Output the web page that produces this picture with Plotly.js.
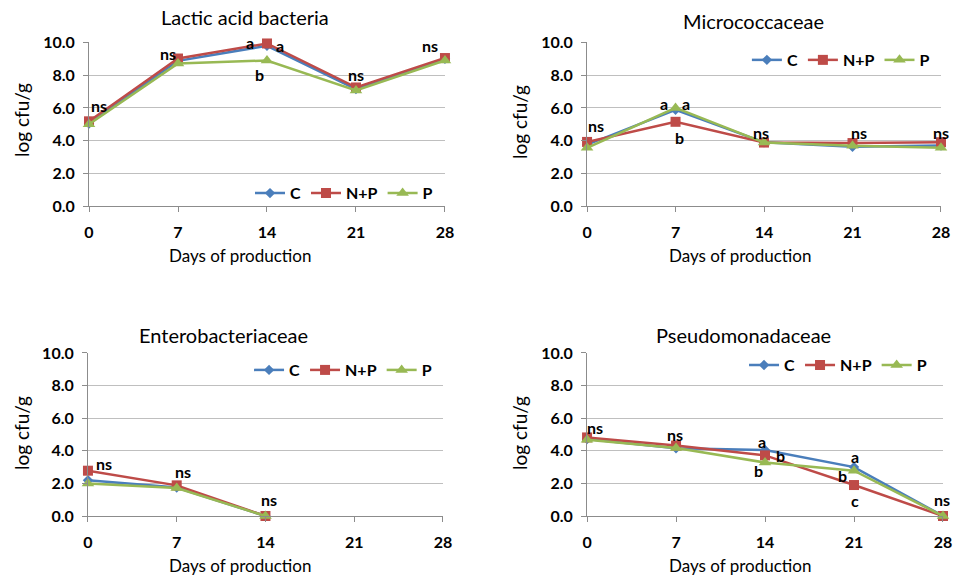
<!DOCTYPE html>
<html>
<head>
<meta charset="utf-8">
<script src="https://cdn.plot.ly/plotly-3.0.1.min.js"></script>
<style>html,body{margin:0;padding:0;background:#fff;}#chart{width:953px;height:575px;}</style>
</head>
<body>
<div id="chart"></div>
<script>
// ---- Data ----
const days = [0, 7, 14, 21, 28];
const tickLabels = ["0", "7", "14", "21", "28"];
const seriesNames = ["C", "N+P", "P"];
const panelTitles = ["Lactic acid bacteria", "Micrococcaceae", "Enterobacteriaceae", "Pseudomonadaceae"];
const xTitle = "Days of production";
const yTitle = "log cfu/g";

// Lactic acid bacteria
const lab_C   = [5.05, 8.88, 9.80, 7.15, 9.00];
const lab_NP  = [5.18, 9.02, 9.94, 7.25, 9.05];
const lab_P   = [5.00, 8.72, 8.90, 7.07, 8.90];
// Micrococcaceae
const mic_C   = [3.75, 5.88, 3.90, 3.62, 3.70];
const mic_NP  = [3.92, 5.15, 3.88, 3.85, 3.90];
const mic_P   = [3.56, 6.00, 3.88, 3.68, 3.56];
// Enterobacteriaceae
const ent_C   = [2.20, 1.75, 0.00];
const ent_NP  = [2.78, 1.88, 0.00];
const ent_P   = [2.00, 1.72, 0.00];
// Pseudomonadaceae
const pse_C   = [4.72, 4.15, 4.05, 3.00, 0.00];
const pse_NP  = [4.82, 4.32, 3.72, 1.90, 0.00];
const pse_P   = [4.68, 4.17, 3.28, 2.78, 0.00];

// significance letters: [x, y, text] in data units
const lab_sig = [[0.8, 6.15, "ns"], [6.2, 9.35, "ns"], [12.7, 10.0, "a"], [15.0, 9.8, "a"], [13.4, 8.05, "b"], [21.0, 8.05, "ns"], [26.8, 9.8, "ns"]];
const mic_sig = [[0.7, 4.95, "ns"], [6.1, 6.3, "a"], [7.8, 6.3, "a"], [7.3, 4.2, "b"], [13.8, 4.5, "ns"], [21.5, 4.5, "ns"], [28.0, 4.5, "ns"]];
const ent_sig = [[1.3, 3.2, "ns"], [7.5, 2.7, "ns"], [14.3, 1.0, "ns"]];
const pse_sig = [[0.6, 5.45, "ns"], [6.9, 4.97, "ns"], [13.8, 4.55, "a"], [15.2, 3.7, "b"], [13.5, 2.8, "b"], [21.1, 3.68, "a"], [20.1, 2.5, "b"], [21.1, 0.98, "c"], [27.9, 1.0, "ns"]];

// ---- Styles ----
const colors = ["#4A7EBB", "#BE4B48", "#98B954"];
const symbols = ["diamond", "square", "triangle-up"];
const msizes = [8, 10, 11];
const FONT = "Lato, 'Open Sans', Arial, sans-serif";

const panels = [
  {vals: [lab_C, lab_NP, lab_P], sig: lab_sig, xa: "x",  ya: "y",  lg: "legend"},
  {vals: [mic_C, mic_NP, mic_P], sig: mic_sig, xa: "x2", ya: "y2", lg: "legend2"},
  {vals: [ent_C, ent_NP, ent_P], sig: ent_sig, xa: "x3", ya: "y3", lg: "legend3"},
  {vals: [pse_C, pse_NP, pse_P], sig: pse_sig, xa: "x4", ya: "y4", lg: "legend4"}
];

const traces = [];
panels.forEach(p => {
  p.vals.forEach((v, i) => {
    traces.push({
      type: "scatter", mode: "lines+markers",
      x: days.slice(0, v.length), y: v,
      name: seriesNames[i],
      xaxis: p.xa, yaxis: p.ya, legend: p.lg,
      line: {color: colors[i], width: 2.5},
      marker: {symbol: symbols[i], size: msizes[i], color: colors[i]},
      cliponaxis: false
    });
  });
});

const xDom = [[0.0934, 0.4669], [0.6160, 0.9874], [0.0923, 0.4648], [0.6160, 0.9895]];
const yDom = [[0.6417, 0.9261], [0.6417, 0.9261], [0.1026, 0.3861], [0.1026, 0.3861]];

const layout = {
  width: 953, height: 575,
  margin: {l: 0, r: 0, t: 0, b: 0},
  paper_bgcolor: "#ffffff", plot_bgcolor: "#ffffff",
  font: {family: FONT, color: "#000"},
  showlegend: true,
  annotations: []
};

const legendPos = [[0.4596, 0.664], [0.981, 0.8957], [0.4586, 0.3565], [0.978, 0.365]];
["legend", "legend2", "legend3", "legend4"].forEach((k, i) => {
  layout[k] = {
    orientation: "h", x: legendPos[i][0], y: legendPos[i][1],
    xanchor: "right", yanchor: "middle",
    bgcolor: "rgba(0,0,0,0)", itemwidth: 30, tracegroupgap: 0,
    font: {family: FONT, size: 16, color: "#000", weight: "bold"}
  };
});

for (let i = 0; i < 4; i++) {
  const s = i === 0 ? "" : String(i + 1);
  layout["xaxis" + s] = {
    domain: xDom[i], anchor: "y" + s, range: [0, 28],
    tickvals: days, ticktext: tickLabels,
    ticks: "outside", ticklen: 5, tickcolor: "#8C8C8C",
    showline: true, linecolor: "#8C8C8C", linewidth: 1,
    showgrid: false, zeroline: false, fixedrange: true,
    ticklabelstandoff: 7,
    tickfont: {family: FONT, size: 16, color: "#000", weight: "bold"}
  };
  layout["yaxis" + s] = {
    domain: yDom[i], anchor: "x" + s, range: [0, 10], dtick: 2, tick0: 0,
    tickformat: ".1f",
    ticks: "outside", ticklen: 5, tickcolor: "#8C8C8C",
    showline: true, linecolor: "#8C8C8C", linewidth: 1,
    showgrid: true, gridcolor: "#BFBFBF", gridwidth: 1,
    zeroline: false, fixedrange: true,
    ticklabelstandoff: 5,
    tickfont: {family: FONT, size: 16, color: "#000", weight: "bold"}
  };
}

// panel titles & axis titles (positions in paper px)
const titlePos = [[245, 17], [753, 21], [223, 335], [743, 335]];
const xTitlePos = [[240, 255], [740, 255], [240, 565], [740, 565]];
const yTitlePos = [[21, 120], [519, 122], [21, 433], [519, 433]];
for (let i = 0; i < 4; i++) {
  layout.annotations.push({
    text: panelTitles[i], xref: "paper", yref: "paper",
    x: titlePos[i][0] / 953, y: 1 - titlePos[i][1] / 575,
    xanchor: "center", yanchor: "middle", showarrow: false,
    font: {family: FONT, size: 20, color: "#000"}
  });
  layout.annotations.push({
    text: xTitle, xref: "paper", yref: "paper",
    x: xTitlePos[i][0] / 953, y: 1 - xTitlePos[i][1] / 575,
    xanchor: "center", yanchor: "middle", showarrow: false,
    font: {family: FONT, size: 17, color: "#000"}
  });
  layout.annotations.push({
    text: yTitle, xref: "paper", yref: "paper", textangle: -90,
    x: yTitlePos[i][0] / 953, y: 1 - yTitlePos[i][1] / 575,
    xanchor: "center", yanchor: "middle", showarrow: false,
    font: {family: FONT, size: 19, color: "#000"}
  });
}

panels.forEach(p => {
  p.sig.forEach(sg => {
    const a = {
      text: sg[2], xref: p.xa, yref: p.ya, x: sg[0], y: sg[1],
      xanchor: "center", yanchor: "middle", showarrow: false,
      font: {family: FONT, size: 16, color: "#000", weight: "bold"}
    };
    if (sg[1] >= 10) { a.yshift = 0; a.borderpad = 0; }
    layout.annotations.push(a);
  });
});

Plotly.newPlot("chart", traces, layout, {displayModeBar: false, staticPlot: true});
</script>
</body>
</html>
